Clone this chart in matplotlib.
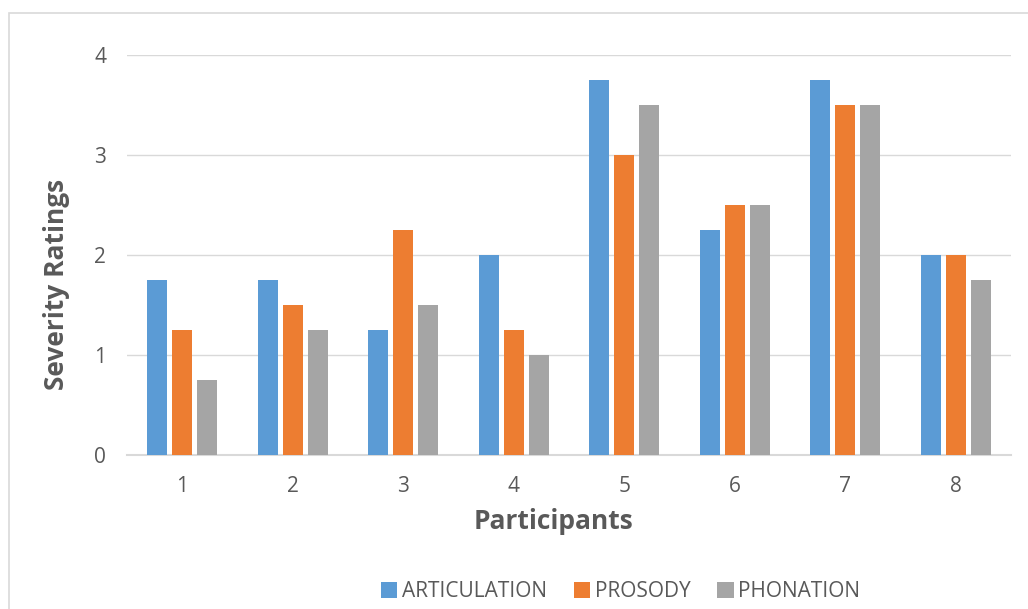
import numpy as np
import matplotlib.pyplot as plt
from matplotlib.patches import Rectangle

plt.rcParams['font.family'] = ['Open Sans', 'DejaVu Sans']

participants = ['1', '2', '3', '4', '5', '6', '7', '8']
articulation = [1.75, 1.75, 1.25, 2.0, 3.75, 2.25, 3.75, 2.0]
prosody = [1.25, 1.5, 2.25, 1.25, 3.0, 2.5, 3.5, 2.0]
phonation = [0.75, 1.25, 1.5, 1.0, 3.5, 2.5, 3.5, 1.75]

series = [
    ('ARTICULATION', articulation, '#5B9BD5'),
    ('PROSODY', prosody, '#ED7D31'),
    ('PHONATION', phonation, '#A5A5A5'),
]

text_color = '#595959'
grid_color = '#D9D9D9'

fig = plt.figure(figsize=(10.28, 6.09), dpi=100)
ax = fig.add_axes([0.1235, 0.2529, 0.86, 0.657])

x = np.arange(len(participants))
step = 0.226
width = 0.18
for i, (name, vals, color) in enumerate(series):
    ax.bar(x + (i - 1) * step, vals, width, color=color, label=name, zorder=3)

ax.set_xlim(-0.5, len(participants) - 0.5)
ax.set_ylim(0, 4)
ax.set_yticks([0, 1, 2, 3, 4])
ax.set_xticks(x)
ax.set_xticklabels(participants)
ax.yaxis.grid(True, color=grid_color, linewidth=1, zorder=0)
for s in ['top', 'right', 'left']:
    ax.spines[s].set_visible(False)
ax.spines['bottom'].set_color(grid_color)
ax.spines['bottom'].set_linewidth(1.5)
ax.tick_params(axis='both', length=0, labelsize=15, colors=text_color)
ax.tick_params(axis='x', pad=15)
ax.tick_params(axis='y', pad=15)

# axis titles placed in figure coordinates
fig.text(553 / 1028, 1 - 529 / 609, 'Participants', fontsize=19, fontweight='bold',
         color=text_color, ha='center', va='baseline')
fig.text(57 / 1028, 1 - 284 / 609, 'Severity Ratings', fontsize=19, fontweight='bold',
         color=text_color, ha='center', va='center', rotation=90)

fig.legend(loc='center', bbox_to_anchor=(0.6036, 0.028), ncol=3, frameon=False,
           fontsize=15, labelcolor=text_color, handlelength=0.8, handleheight=0.8,
           handletextpad=0.2, columnspacing=1.3)

# light frame around the chart
fig.add_artist(Rectangle((8.5 / 1028, -0.1), 1.2, 1 - 12.5 / 609 + 0.1,
                         transform=fig.transFigure, fill=False,
                         edgecolor=grid_color, linewidth=1.2))

fig.savefig('out.png', dpi=100)
